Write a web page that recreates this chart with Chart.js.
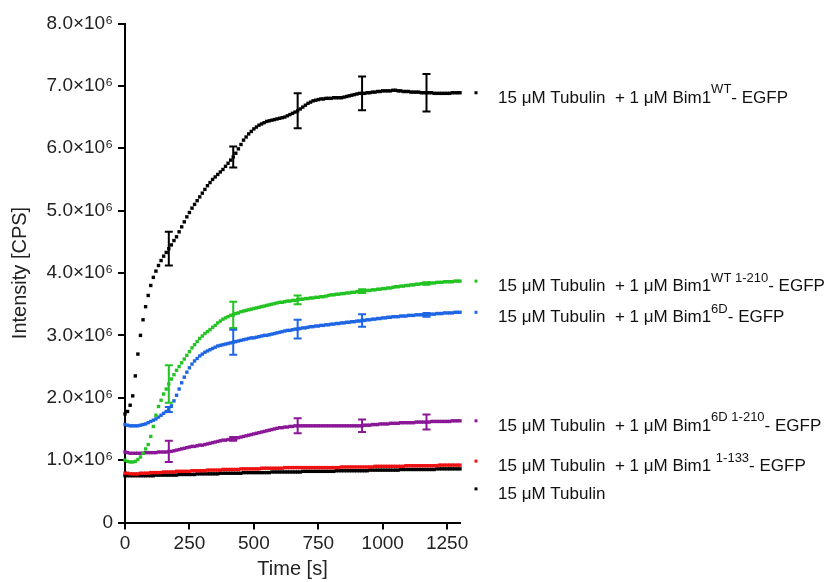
<!DOCTYPE html>
<html>
<head>
<meta charset="utf-8">
<script src="https://cdn.jsdelivr.net/npm/chart.js@4.4.1/dist/chart.umd.min.js"></script>
<style>
html, body { margin: 0; padding: 0; background: #fff; }
</style>
</head>
<body>
<canvas id="chart-intensity" width="833" height="582"></canvas>
<script>
// time points [s]
const timeSec = [
  0, 10, 20, 30, 40, 50, 60, 70, 80, 90, 100,
  110, 120, 130, 140, 150, 160, 170, 180, 190, 200,
  210, 220, 230, 240, 250, 260, 270, 280, 290, 300,
  310, 320, 330, 340, 350, 360, 370, 380, 390, 400,
  410, 420, 430, 440, 450, 460, 470, 480, 490, 500,
  510, 520, 530, 540, 550, 560, 570, 580, 590, 600,
  610, 620, 630, 640, 650, 660, 670, 680, 690, 700,
  710, 720, 730, 740, 750, 760, 770, 780, 790, 800,
  810, 820, 830, 840, 850, 860, 870, 880, 890, 900,
  910, 920, 930, 940, 950, 960, 970, 980, 990, 1000,
  1010, 1020, 1030, 1040, 1050, 1060, 1070, 1080, 1090, 1100,
  1110, 1120, 1130, 1140, 1150, 1160, 1170, 1180, 1190, 1200,
  1210, 1220, 1230, 1240, 1250, 1260, 1270, 1280, 1290, 1300
];

// intensities in units of 10^6 CPS
const bim1WT = [
  1.74, 1.78, 1.88, 2.03, 2.35, 2.7, 3.0, 3.25, 3.46, 3.64, 3.8,
  3.93, 4.03, 4.12, 4.2, 4.27, 4.33, 4.39, 4.45, 4.52, 4.58,
  4.66, 4.74, 4.82, 4.9, 4.97, 5.04, 5.1, 5.16, 5.22, 5.28,
  5.34, 5.4, 5.45, 5.5, 5.54, 5.58, 5.62, 5.66, 5.71, 5.76,
  5.81, 5.86, 5.92, 5.99, 6.06, 6.13, 6.18, 6.23, 6.27, 6.31,
  6.34, 6.37, 6.39, 6.41, 6.43, 6.44, 6.45, 6.46, 6.47, 6.48,
  6.49, 6.5, 6.52, 6.54, 6.56, 6.58, 6.6, 6.63, 6.66, 6.69,
  6.72, 6.74, 6.76, 6.77, 6.78, 6.79, 6.79, 6.8, 6.8, 6.8,
  6.81, 6.81, 6.81, 6.81, 6.82, 6.83, 6.84, 6.85, 6.86, 6.87,
  6.88, 6.88, 6.88, 6.89, 6.89, 6.9, 6.9, 6.91, 6.91, 6.92,
  6.92, 6.92, 6.92, 6.93, 6.93, 6.92, 6.92, 6.91, 6.91, 6.91,
  6.9, 6.9, 6.9, 6.9, 6.89, 6.89, 6.89, 6.89, 6.89, 6.88,
  6.88, 6.88, 6.88, 6.88, 6.88, 6.88, 6.89, 6.89, 6.89, 6.89
];
const bim1WT210 = [
  1.0, 0.98, 0.97, 0.97, 0.98, 1.01, 1.05, 1.11, 1.18, 1.25, 1.38,
  1.54, 1.72, 1.86, 1.96, 2.06, 2.14, 2.22, 2.3, 2.37, 2.44,
  2.5, 2.56, 2.62, 2.68, 2.74, 2.8, 2.85, 2.9, 2.95, 2.99,
  3.03, 3.06, 3.09, 3.13, 3.16, 3.2, 3.23, 3.26, 3.28, 3.3,
  3.32, 3.33, 3.35, 3.36, 3.38, 3.39, 3.4, 3.41, 3.42, 3.43,
  3.44, 3.45, 3.46, 3.47, 3.48, 3.49, 3.5, 3.51, 3.52, 3.53,
  3.53, 3.54, 3.55, 3.55, 3.56, 3.56, 3.57, 3.58, 3.58, 3.59,
  3.59, 3.6, 3.6, 3.61, 3.61, 3.62, 3.62, 3.63, 3.64, 3.65,
  3.65, 3.66, 3.66, 3.67, 3.67, 3.68, 3.68, 3.69, 3.69, 3.7,
  3.7, 3.71, 3.71, 3.72, 3.72, 3.73, 3.73, 3.74, 3.74, 3.75,
  3.75, 3.76, 3.76, 3.77, 3.78, 3.78, 3.79, 3.79, 3.8, 3.8,
  3.81, 3.81, 3.82, 3.82, 3.83, 3.83, 3.83, 3.84, 3.84, 3.84,
  3.85, 3.85, 3.85, 3.86, 3.86, 3.86, 3.86, 3.87, 3.87, 3.87
];
const bim16D = [
  1.57, 1.56, 1.55, 1.55, 1.55, 1.55, 1.56, 1.57, 1.58, 1.6, 1.62,
  1.64, 1.66, 1.69, 1.72, 1.75, 1.78, 1.81, 1.87, 1.95, 2.04,
  2.14, 2.24, 2.33, 2.41, 2.48, 2.54, 2.59, 2.63, 2.67, 2.7,
  2.73, 2.75, 2.77, 2.79, 2.81, 2.83, 2.84, 2.85, 2.86, 2.87,
  2.88, 2.89, 2.9, 2.91, 2.92, 2.93, 2.94, 2.95, 2.96, 2.96,
  2.97, 2.98, 2.99, 3.0, 3.0, 3.01, 3.02, 3.03, 3.04, 3.05,
  3.06, 3.07, 3.08, 3.08, 3.09, 3.1, 3.1, 3.11, 3.12, 3.12,
  3.13, 3.14, 3.14, 3.15, 3.15, 3.16, 3.16, 3.17, 3.17, 3.18,
  3.18, 3.19, 3.19, 3.2, 3.2, 3.21, 3.21, 3.22, 3.22, 3.23,
  3.23, 3.24, 3.24, 3.25, 3.25, 3.26, 3.26, 3.27, 3.27, 3.28,
  3.28, 3.29, 3.29, 3.3, 3.3, 3.3, 3.31, 3.31, 3.31, 3.32,
  3.32, 3.32, 3.33, 3.33, 3.33, 3.33, 3.33, 3.34, 3.34, 3.34,
  3.35, 3.35, 3.35, 3.36, 3.36, 3.36, 3.36, 3.37, 3.37, 3.37
];
const bim16D210 = [
  1.13, 1.12, 1.11, 1.11, 1.11, 1.11, 1.11, 1.11, 1.12, 1.12, 1.12,
  1.12, 1.12, 1.13, 1.13, 1.13, 1.13, 1.14, 1.14, 1.15, 1.16,
  1.17, 1.18, 1.19, 1.2, 1.21, 1.22, 1.22, 1.23, 1.24, 1.24,
  1.25, 1.26, 1.27, 1.28, 1.29, 1.3, 1.31, 1.32, 1.32, 1.33,
  1.33, 1.34, 1.35, 1.36, 1.37, 1.38, 1.39, 1.4, 1.41, 1.42,
  1.43, 1.44, 1.45, 1.46, 1.47, 1.48, 1.49, 1.5, 1.51, 1.52,
  1.52, 1.53, 1.53, 1.54, 1.54, 1.55, 1.55, 1.55, 1.55, 1.55,
  1.55, 1.55, 1.55, 1.55, 1.55, 1.55, 1.55, 1.55, 1.55, 1.55,
  1.55, 1.55, 1.55, 1.55, 1.55, 1.55, 1.55, 1.55, 1.55, 1.55,
  1.55, 1.55, 1.56, 1.56, 1.56, 1.57, 1.57, 1.57, 1.58, 1.58,
  1.58, 1.58, 1.59, 1.59, 1.59, 1.59, 1.6, 1.6, 1.6, 1.6,
  1.6, 1.6, 1.61, 1.61, 1.61, 1.61, 1.61, 1.61, 1.62, 1.62,
  1.62, 1.62, 1.62, 1.62, 1.62, 1.62, 1.63, 1.63, 1.63, 1.63
];
const bim1133 = [
  0.79, 0.79, 0.78, 0.78, 0.78, 0.78, 0.79, 0.79, 0.79, 0.79, 0.8,
  0.8, 0.8, 0.8, 0.8, 0.81, 0.81, 0.81, 0.81, 0.81, 0.82,
  0.82, 0.82, 0.82, 0.82, 0.82, 0.83, 0.83, 0.83, 0.83, 0.83,
  0.83, 0.84, 0.84, 0.84, 0.84, 0.84, 0.84, 0.85, 0.85, 0.85,
  0.85, 0.85, 0.85, 0.85, 0.86, 0.86, 0.86, 0.86, 0.86, 0.86,
  0.86, 0.86, 0.87, 0.87, 0.87, 0.87, 0.87, 0.87, 0.87, 0.87,
  0.87, 0.88, 0.88, 0.88, 0.88, 0.88, 0.88, 0.88, 0.88, 0.88,
  0.88, 0.88, 0.88, 0.88, 0.88, 0.88, 0.88, 0.88, 0.88, 0.88,
  0.88, 0.88, 0.88, 0.89, 0.89, 0.89, 0.89, 0.89, 0.89, 0.89,
  0.89, 0.89, 0.89, 0.89, 0.89, 0.89, 0.9, 0.9, 0.9, 0.9,
  0.9, 0.9, 0.9, 0.9, 0.9, 0.9, 0.9, 0.9, 0.91, 0.91,
  0.91, 0.91, 0.91, 0.91, 0.91, 0.91, 0.91, 0.91, 0.91, 0.91,
  0.91, 0.92, 0.92, 0.92, 0.92, 0.92, 0.92, 0.92, 0.92, 0.92
];
const tubulinOnly = [
  0.75, 0.75, 0.75, 0.75, 0.75, 0.75, 0.75, 0.75, 0.75, 0.75, 0.75,
  0.75, 0.76, 0.76, 0.76, 0.76, 0.76, 0.76, 0.76, 0.76, 0.76,
  0.77, 0.77, 0.77, 0.77, 0.77, 0.77, 0.77, 0.78, 0.78, 0.78,
  0.78, 0.78, 0.78, 0.78, 0.78, 0.78, 0.79, 0.79, 0.79, 0.79,
  0.79, 0.79, 0.79, 0.79, 0.79, 0.8, 0.8, 0.8, 0.8, 0.8,
  0.8, 0.8, 0.8, 0.8, 0.8, 0.8, 0.81, 0.81, 0.81, 0.81,
  0.81, 0.81, 0.81, 0.81, 0.81, 0.81, 0.81, 0.81, 0.82, 0.82,
  0.82, 0.82, 0.82, 0.82, 0.82, 0.82, 0.82, 0.82, 0.82, 0.82,
  0.82, 0.83, 0.83, 0.83, 0.83, 0.83, 0.83, 0.83, 0.83, 0.83,
  0.83, 0.83, 0.83, 0.83, 0.84, 0.84, 0.84, 0.84, 0.84, 0.84,
  0.84, 0.84, 0.84, 0.84, 0.84, 0.84, 0.85, 0.85, 0.85, 0.85,
  0.85, 0.85, 0.85, 0.85, 0.85, 0.85, 0.85, 0.85, 0.85, 0.85,
  0.86, 0.86, 0.86, 0.86, 0.86, 0.86, 0.86, 0.86, 0.86, 0.86
];

// error bars (SD, 10^6 CPS) at these times
const errTimes = [170, 420, 670, 920, 1170];
const errWT = [0.27, 0.17, 0.28, 0.27, 0.3];
const errWT210 = [0.3, 0.21, 0.07, 0.03, 0.02];
const err6D = [0.04, 0.2, 0.15, 0.1, 0.03];
const err6D210 = [0.17, 0.03, 0.12, 0.1, 0.12];

const xTickValues = [0, 250, 500, 750, 1000, 1250];
const yTickValues = [0, 1, 2, 3, 4, 5, 6, 7, 8];

// legend text: [before superscript, superscript, after]
const seriesLabels = [
  ['15 \u03bcM Tubulin  + 1 \u03bcM Bim1', 'WT', '- EGFP'],
  ['15 \u03bcM Tubulin  + 1 \u03bcM Bim1', 'WT 1-210', '- EGFP'],
  ['15 \u03bcM Tubulin  + 1 \u03bcM Bim1', '6D', '- EGFP'],
  ['15 \u03bcM Tubulin  + 1 \u03bcM Bim1', '6D 1-210', '- EGFP'],
  ['15 \u03bcM Tubulin  + 1 \u03bcM Bim1 ', '1-133', '- EGFP'],
  ['15 \u03bcM Tubulin', '', '']
];
const seriesColors = ['#000000', '#22c322', '#1f66e5', '#8a1896', '#ee1111', '#000000'];
const seriesValues = [bim1WT, bim1WT210, bim16D, bim16D210, bim1133, tubulinOnly];
const seriesErrors = [errWT, errWT210, err6D, err6D210, null, null];
// vertical nudge of the end labels (px) so they don't collide
const labelShift = [0, 0, 0, 0, -4, 20];

const FONT = "'Liberation Sans', Arial, Helvetica, sans-serif";

function toPoints(values) {
  return values.map((v, i) => ({x: timeSec[i], y: v}));
}

const extrasPlugin = {
  id: 'extras',
  afterDatasetsDraw(chart) {
    const ctx = chart.ctx;
    const xs = chart.scales.x;
    const ys = chart.scales.y;
    chart.data.datasets.forEach((ds, i) => {
      const errs = seriesErrors[i];
      if (!errs) return;
      ctx.save();
      ctx.strokeStyle = seriesColors[i];
      ctx.lineWidth = 2;
      errTimes.forEach((t, k) => {
        const idx = timeSec.indexOf(t);
        const v = seriesValues[i][idx];
        const px = xs.getPixelForValue(t);
        const top = ys.getPixelForValue(v + errs[k]);
        const bot = ys.getPixelForValue(v - errs[k]);
        ctx.beginPath();
        ctx.moveTo(px, top);
        ctx.lineTo(px, bot);
        ctx.moveTo(px - 4, top);
        ctx.lineTo(px + 4, top);
        ctx.moveTo(px - 4, bot);
        ctx.lineTo(px + 4, bot);
        ctx.stroke();
      });
      ctx.restore();
    });
  },
  afterDraw(chart) {
    const ctx = chart.ctx;
    const ys = chart.scales.y;
    const markX = chart.chartArea.right + 16;
    const textX = chart.chartArea.right + 38;
    ctx.save();
    ctx.textBaseline = 'alphabetic';
    seriesLabels.forEach((lab, i) => {
      const vals = seriesValues[i];
      const y = ys.getPixelForValue(vals[vals.length - 1]) + labelShift[i];
      ctx.fillStyle = seriesColors[i];
      ctx.fillRect(markX - 1.5, y - 1.5, 3, 3);
      ctx.fillStyle = '#111';
      let x = textX;
      ctx.font = '17px ' + FONT;
      ctx.fillText(lab[0], x, y + 10);
      x += ctx.measureText(lab[0]).width;
      if (lab[1]) {
        ctx.font = '13px ' + FONT;
        ctx.fillText(lab[1], x, y + 0.5);
        x += ctx.measureText(lab[1]).width;
      }
      if (lab[2]) {
        ctx.font = '17px ' + FONT;
        ctx.fillText(lab[2], x, y + 10);
      }
    });
    ctx.restore();
  }
};

const ctx = document.getElementById('chart-intensity').getContext('2d');
const myChart = new Chart(ctx, {
  type: 'scatter',
  data: {
    datasets: seriesValues.map((vals, i) => ({
      label: seriesLabels[i].join(''),
      data: toPoints(vals),
      showLine: false,
      pointStyle: 'rect',
      pointRadius: 2.4,
      pointBorderWidth: 0,
      backgroundColor: seriesColors[i],
      borderColor: seriesColors[i],
      clip: false
    }))
  },
  options: {
    responsive: false,
    animation: false,
    devicePixelRatio: 1,
    layout: {
      padding: {top: 23.5, right: 373, bottom: 0, left: 0}
    },
    plugins: {
      legend: {display: false},
      tooltip: {enabled: false}
    },
    scales: {
      x: {
        type: 'linear',
        min: 0,
        max: 1300,
        afterBuildTicks: s => { s.ticks = xTickValues.map(v => ({value: v})); },
        afterFit: s => { s.height = 59.5; s.paddingLeft = 0; s.paddingRight = 0; },
        border: {display: true, color: '#000', width: 2},
        grid: {display: true, drawOnChartArea: false, drawTicks: true, tickLength: 7, lineWidth: 2, tickWidth: 2, tickColor: '#000'},
        ticks: {color: '#222', font: {family: FONT, size: 19}, padding: 3, maxRotation: 0, callback: v => String(v)},
        title: {display: true, text: 'Time [s]', color: '#222', font: {family: FONT, size: 20}, padding: {top: 0, bottom: 1}}
      },
      y: {
        type: 'linear',
        min: 0,
        max: 8,
        afterBuildTicks: s => { s.ticks = yTickValues.map(v => ({value: v})); },
        afterFit: s => { s.width = 125; s.paddingTop = 0; s.paddingBottom = 0; },
        border: {display: true, color: '#000', width: 2},
        grid: {display: true, drawOnChartArea: false, drawTicks: true, tickLength: 7, lineWidth: 2, tickWidth: 2, tickColor: '#000'},
        ticks: {
          color: '#222',
          font: {family: FONT, size: 19},
          padding: 5,
          callback: v => v === 0 ? '0' : v.toFixed(1) + '\u00d710\u2076'
        },
        title: {display: true, text: 'Intensity [CPS]', color: '#222', font: {family: FONT, size: 20}, padding: {top: 8, bottom: 0}}
      }
    }
  },
  plugins: [extrasPlugin]
});
</script>
</body>
</html>
